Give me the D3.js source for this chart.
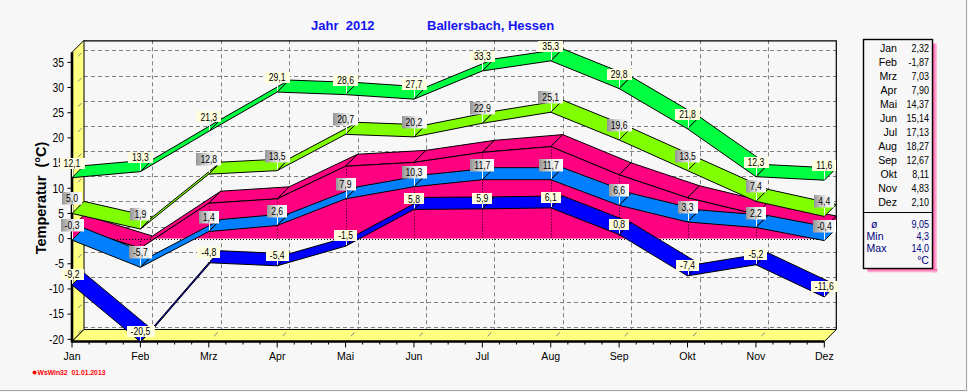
<!DOCTYPE html>
<html><head><meta charset="utf-8">
<script src="https://cdn.jsdelivr.net/npm/d3@7"></script>
<style>
body{margin:0;background:#f7f7f7;}
svg{display:block;}
text{font-family:"Liberation Sans",Arial,sans-serif;}
</style>
</head><body>
<svg id="c" width="968" height="392"></svg>
<script>
// ---------- data ----------
const months = ["Jan","Feb","Mrz","Apr","Mai","Jun","Jul","Aug","Sep","Okt","Nov","Dez"];
const absMax = [12.1,13.3,21.3,29.1,28.6,27.7,33.3,35.3,29.8,21.8,12.3,11.6];
const avgMax = [5.0,1.9,12.8,13.5,20.7,20.2,22.9,25.1,19.6,13.5,7.4,4.4];
const meanT  = [2.32,-1.87,7.03,7.90,14.37,15.14,17.13,18.27,12.67,8.11,4.83,2.10];
const avgMin = [-0.3,-5.7,1.4,2.6,7.9,10.3,11.7,11.7,6.6,3.3,2.2,-0.4];
const absMin = [-9.2,-20.5,-4.8,-5.4,-1.5,5.8,5.9,6.1,0.8,-7.4,-5.2,-11.6];
const yTicks = [-20,-15,-10,-5,0,5,10,15,20,25,30,35];
const statLabels = ["ø","Min","Max"];
const statValues = ["9,05","4,3","14,0"];
const titleYear = "Jahr  2012";
const titlePlace = "Ballersbach, Hessen";
const yTitle = "Temperatur  (°C)";
const footer = "WsWin32  01.01.2013";

// ---------- setup ----------
const W = 968, H = 392, BG = "#f7f7f7";
const DX = 12, DY = -12;
const x = d3.scalePoint().domain(months).range([72, 824.3]);
const y = d3.scaleLinear().domain([-20, 37]).range([339.3, 52.3]);
const fmt = v => d3.format(".1f")(v).replace(".", ",").replace("−","-");
const fmt2 = v => d3.format(".2f")(v).replace(".", ",").replace("−","-");
const svg = d3.select("#c");
const defs = svg.append("defs");
const gg = defs.append("linearGradient").attr("id","gray").attr("x1","0").attr("x2","1").attr("y1","0").attr("y2","0");
gg.append("stop").attr("offset","0").attr("stop-color","#959595");
gg.append("stop").attr("offset","0.55").attr("stop-color","#e8e8e8");
gg.append("stop").attr("offset","1").attr("stop-color","#ffffff");
const pg = defs.append("linearGradient").attr("id","pink").attr("x1","0").attr("x2","1").attr("y1","0").attr("y2","0");
pg.append("stop").attr("offset","0").attr("stop-color","#ff5aa8");
pg.append("stop").attr("offset","1").attr("stop-color","#ffc8e2");
const pgv = defs.append("linearGradient").attr("id","pinkv").attr("x1","0").attr("x2","0").attr("y1","0").attr("y2","1");
pgv.append("stop").attr("offset","0").attr("stop-color","#ff5aa8");
pgv.append("stop").attr("offset","1").attr("stop-color","#ffc8e2");

svg.append("rect").attr("width",W).attr("height",H).attr("fill",BG);

function sText(parent, tx, ty, str, o) {
  const g = parent.append("g").attr("transform",`translate(${tx},${ty}) scale(${o.sx||1},1)`);
  const t = g.append("text").attr("text-anchor", o.anchor||"start")
    .style("font-size", o.size+"px").attr("fill", o.fill||"#000")
    .style("white-space","pre").text(str);
  if (o.weight) t.style("font-weight", o.weight);
  if (o.dy) t.attr("dy", o.dy);
  return {g, t, w: t.node().getComputedTextLength()*(o.sx||1)};
}

const x0 = x(months[0]), x1 = x(months[months.length-1]);
const yTop = y(37), yFloor = y(-20) + 2.2;

// ---------- back wall grid ----------
const grid = svg.append("g").attr("stroke","#808080").attr("stroke-width",1).attr("stroke-dasharray","4,3").attr("fill","none");
yTicks.forEach(v => {
  const yy = Math.round(y(v)+DY)+0.5;
  grid.append("line").attr("x1",x0+DX).attr("x2",x1+DX).attr("y1",yy).attr("y2",yy);
});
months.slice(1,-1).forEach(m => {
  const xx = Math.round(x(m)+DX)+0.5;
  grid.append("line").attr("x1",xx).attr("x2",xx).attr("y1",yTop+DY).attr("y2",yFloor+DY);
});
svg.append("path").attr("d",`M${x0+DX},${yTop+DY+0.5}H${x1+DX}V${yFloor+DY}`)
  .attr("fill","none").attr("stroke","#000").attr("stroke-width",1.2);

// ---------- left wall & floor ----------
svg.append("path").attr("d",`M${x0},${yTop}L${x0+DX},${yTop+DY}V${yFloor+DY}L${x0},${yFloor}Z`)
  .attr("fill","#ffff80").attr("stroke","#000").attr("stroke-width",1);
svg.append("path").attr("d",`M${x0},${yFloor}H${x1}L${x1+DX},${yFloor+DY}H${x0+DX}Z`)
  .attr("fill","#ffff80").attr("stroke","#000").attr("stroke-width",1);
const marks = svg.append("g").attr("stroke","#808080").attr("stroke-width",1);
yTicks.forEach(v => {
  marks.append("line").attr("x1",x0+DX*0.5).attr("y1",y(v)+DY*0.5).attr("x2",x0+DX*0.8).attr("y2",y(v)+DY*0.8);
});
months.slice(1,-1).forEach(m => {
  marks.append("line").attr("x1",x(m)+DX*0.45).attr("y1",yFloor+DY*0.45).attr("x2",x(m)+DX*0.75).attr("y2",yFloor+DY*0.75);
});
svg.append("line").attr("x1",x0).attr("x2",x0).attr("y1",yTop).attr("y2",yFloor+1).attr("stroke","#000").attr("stroke-width",2.6);
svg.append("line").attr("x1",x0).attr("x2",x1).attr("y1",yFloor).attr("y2",yFloor).attr("stroke","#000").attr("stroke-width",2.6);

// ---------- axes ----------
const axG = svg.append("g");
yTicks.forEach(v => {
  axG.append("line").attr("x1",x0-4.5).attr("x2",x0).attr("y1",y(v)).attr("y2",y(v)).attr("stroke","#000");
  sText(axG, 64, y(v), String(v), {size:12, anchor:"end", sx:0.86, dy:"0.36em"});
});
const step = x(months[1]) - x(months[0]);
months.forEach((m,i) => {
  axG.append("line").attr("x1",x(m)).attr("x2",x(m)).attr("y1",yFloor).attr("y2",yFloor+6).attr("stroke","#000");
  if (i < months.length-1) for (let k=1;k<4;k++) {
    const xx = x(m)+k*step/4;
    axG.append("line").attr("x1",xx).attr("x2",xx).attr("y1",yFloor).attr("y2",yFloor+3).attr("stroke","#000");
  }
  sText(axG, x(m), 359.5, m, {size:11.5, anchor:"middle", sx:0.92});
});

// ---------- series ----------
function ribbon(vals, color) {
  const g = svg.append("g");
  for (let i=0;i<vals.length-1;i++) {
    const ax = x(months[i]), ay = y(vals[i]), bx = x(months[i+1]), by = y(vals[i+1]);
    g.append("path").attr("d",`M${ax},${ay}L${bx},${by}L${bx+DX},${by+DY}L${ax+DX},${ay+DY}Z`)
      .attr("fill",color).attr("stroke","#000").attr("stroke-width",1).attr("stroke-linejoin","round");
  }
}
function areaSeries(vals, color) {
  const g = svg.append("g");
  const y0 = y(0);
  const n = vals.length;
  const lx = x(months[n-1]), ly = y(vals[n-1]);
  g.append("path").attr("d",`M${lx},${ly}L${lx},${y0}L${lx+DX},${y0+DY}L${lx+DX},${ly+DY}Z`)
    .attr("fill",color).attr("stroke","#000").attr("stroke-width",1);
  for (let i=0;i<n-1;i++) {
    const ax = x(months[i]), ay = y(vals[i]), bx = x(months[i+1]), by = y(vals[i+1]);
    g.append("path").attr("d",`M${ax},${ay}L${bx},${by}L${bx+DX},${by+DY}L${ax+DX},${ay+DY}Z`)
      .attr("fill",color).attr("stroke","#000").attr("stroke-width",1).attr("stroke-linejoin","round");
  }
  const area = d3.area().x((d,i)=>x(months[i])).y0(y0).y1(d=>y(d));
  g.append("path").attr("d",area(vals)).attr("fill",color);
  const line = d3.line().x((d,i)=>x(months[i])).y(d=>y(d));
  g.append("path").attr("d",line(vals)).attr("fill","none").attr("stroke","#000").attr("stroke-width",1);
  vals.forEach((v,i) => {
    g.append("line").attr("x1",Math.round(x(months[i]))+0.5).attr("x2",Math.round(x(months[i]))+0.5)
      .attr("y1",y(v)).attr("y2",y0).attr("stroke","#000").attr("stroke-dasharray","1,2");
  });
  g.append("line").attr("x1",x0).attr("x2",x1).attr("y1",Math.round(y0)+0.5).attr("y2",Math.round(y0)+0.5)
    .attr("stroke","#000").attr("stroke-dasharray","1,2");
}
areaSeries(meanT, "#ff0080");
ribbon(avgMin, "#0080ff");
ribbon(absMin, "#0000ff");
ribbon(avgMax, "#80ff00");
ribbon(absMax, "#00ff40");

// ---------- data labels ----------
function labels(vals, fill, gap, h) {
  vals.forEach((v,i) => {
    const px = x(months[i]), py = y(v);
    const lg = svg.append("g");
    const bottom = py - gap, top = bottom - h;
    const st = sText(lg, px, top + h/2, fmt(v), {size:10.5, anchor:"middle", sx:0.82, dy:"0.36em"});
    const bw = st.w + 8;
    lg.insert("line","g").attr("x1",Math.round(px)+0.5).attr("x2",Math.round(px)+0.5)
      .attr("y1",bottom).attr("y2",py-1).attr("stroke","#fff").attr("stroke-width",1);
    lg.insert("rect","g").attr("x",Math.round(px-bw/2)).attr("y",Math.round(top)).attr("width",Math.round(bw)).attr("height",h)
      .attr("fill",fill);
  });
}
labels(absMax, "#ffffe0", 9, 11);
labels(avgMax, "url(#gray)", 8.5, 12.5);
labels(avgMin, "url(#gray)", 8.5, 12.5);
labels(absMin, "#ffffe0", 5, 11);

// ---------- titles ----------
svg.append("text").attr("x",311).attr("y",30).style("font-size","13px").style("font-weight","bold")
  .style("white-space","pre").attr("fill","#1414f0").text(titleYear);
svg.append("text").attr("x",427).attr("y",30).style("font-size","13px").style("font-weight","bold")
  .attr("fill","#1414f0").text(titlePlace);
svg.append("text").attr("transform","translate(45.5,198) rotate(-90)").attr("text-anchor","middle")
  .style("font-size","14.5px").style("font-weight","bold").style("white-space","pre").attr("fill","#000").text(yTitle);

// ---------- legend ----------
const L = {x:863.5, y:39.5, w:69, h:229};
svg.append("rect").attr("x",L.x+L.w+0.5).attr("y",L.y+4).attr("width",4).attr("height",L.h).attr("fill","url(#pink)");
svg.append("rect").attr("x",L.x+4).attr("y",L.y+L.h+0.5).attr("width",L.w+1).attr("height",3.5).attr("fill","url(#pinkv)");
svg.append("rect").attr("x",L.x).attr("y",L.y).attr("width",L.w).attr("height",L.h)
  .attr("fill",BG).attr("stroke","#000").attr("stroke-width",1.4);
const lgG = svg.append("g");
months.forEach((m,i) => {
  const by = 52 + 14*i;
  sText(lgG, 897, by, m, {size:11.5, anchor:"end", sx:0.92});
  sText(lgG, 929, by, fmt2(meanT[i]), {size:11.5, anchor:"end", sx:0.78});
});
svg.append("line").attr("x1",L.x).attr("x2",L.x+L.w).attr("y1",212.5).attr("y2",212.5).attr("stroke","#000");
const navy = "#000080";
statLabels.forEach((s,i) => {
  const by = 227.5 + 12*i;
  sText(lgG, i===0 ? 871 : 866.5, by, s, {size:11.5, anchor:"start", fill:navy, sx:0.92});
  sText(lgG, 929, by, statValues[i], {size:11.5, anchor:"end", fill:navy, sx:0.78});
});
sText(lgG, 929, 263.5, "°C", {size:11.5, anchor:"end", fill:navy, sx:0.92});

// ---------- footer & frame ----------
svg.append("circle").attr("cx",34.5).attr("cy",372.5).attr("r",2).attr("fill","#ff0000");
svg.append("text").attr("x",37.5).attr("y",375).style("font-size","6.8px").style("font-weight","bold").style("white-space","pre")
  .attr("fill","#ff0000").text(footer);
svg.append("line").attr("x1",966.5).attr("x2",966.5).attr("y1",0).attr("y2",391).attr("stroke","#a0a0a0");
svg.append("line").attr("x1",0).attr("x2",967).attr("y1",390.5).attr("y2",390.5).attr("stroke","#a0a0a0");
</script>
</body></html>
